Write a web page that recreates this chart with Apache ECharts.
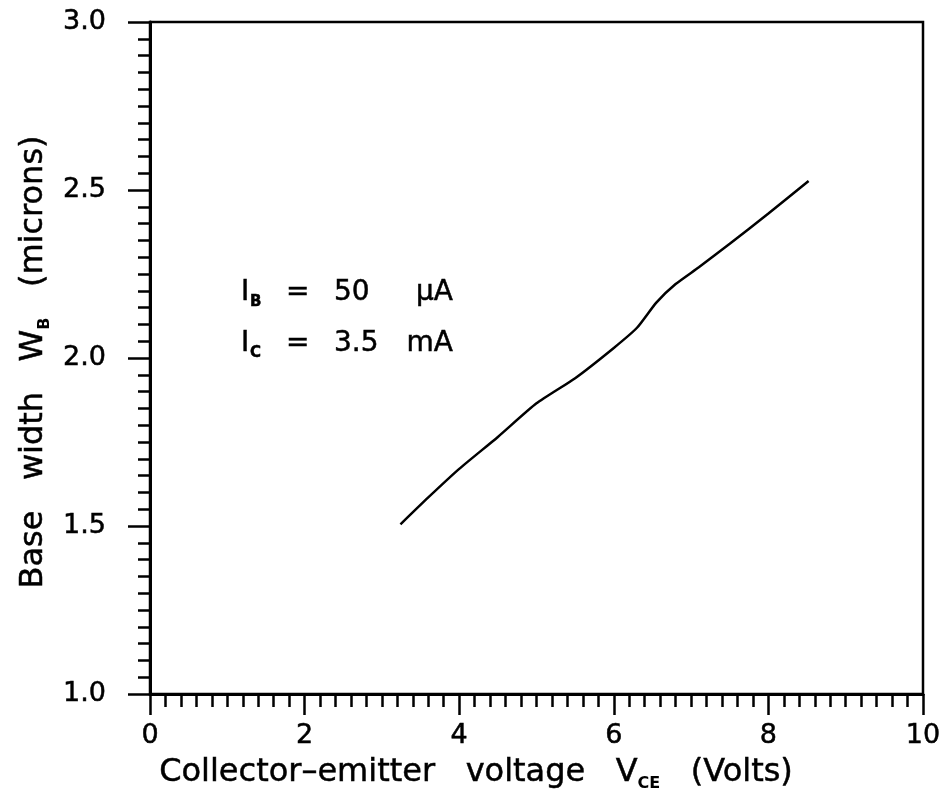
<!doctype html>
<html lang="en">
  <head>
    <meta charset="UTF-8" />
    <title>Base width vs VCE</title>
    <script src="https://cdn.jsdelivr.net/npm/echarts@6/dist/echarts.min.js"></script>
    <style>
      body { margin: 0; padding: 0; background: #fff; }
      .main { width: 945px; height: 799px; }
    </style>
  </head>
  <body>
    <div class="main"></div>
    <script>
      // values
      const vce = [3.24, 3.6, 4.0, 4.5, 5.0, 5.5, 6.0, 6.3, 6.55, 6.8, 7.1, 7.5, 8.0, 8.52];
      const wb = [1.505, 1.585, 1.67, 1.765, 1.865, 1.94, 2.03, 2.09, 2.165, 2.22, 2.27, 2.34, 2.43, 2.527];
      const xTicks = [0, 2, 4, 6, 8, 10];
      const yTicks = [1.0, 1.5, 2.0, 2.5, 3.0];
      // annotation lines: [subscript, value, unit]
      const notes = [
        ["B", "50", "\u03bcA"],
        ["C", "3.5", "mA"]
      ];

      const font = "DejaVu Sans";
      const ink = { fill: "#000", stroke: "#000", lineWidth: 0.5 };
      const chart = echarts.init(document.querySelector(".main"));

      const sub = { fontFamily: font, fontSize: 16, fontWeight: "bold", lineHeight: 24, verticalAlign: "bottom", fill: "#000" };

      // small helper for a plain text graphic
      function txt(x, y, s, size, extra) {
        return Object.assign({
          type: "text", x: x, y: y,
          style: Object.assign({ text: s, fontFamily: font, fontSize: size, verticalAlign: "middle" }, ink)
        }, extra || {});
      }

      const graphics = [];
      notes.forEach((n, i) => {
        const y = i === 0 ? 293 : 344;
        graphics.push(txt(241, y, "I", 28));
        graphics.push(txt(250, y + 9, n[0], 15, { style: Object.assign({ text: n[0], fontFamily: font, fontSize: 15, fontWeight: "bold", verticalAlign: "middle" }, ink) }));
        graphics.push(txt(286, y, "=", 28));
        graphics.push(txt(334, y, n[1], 28));
        graphics.push(txt(453, y, n[2], 28, { style: Object.assign({ text: n[2], fontFamily: font, fontSize: 28, verticalAlign: "middle", align: "right" }, ink) }));
      });

      graphics.push({
        type: "text",
        x: 476, y: 773,
        style: {
          text: "{n|Collector\u2013emitter   voltage   V}{s|CE}{n|   (Volts)}",
          align: "center", verticalAlign: "middle",
          rich: {
            n: Object.assign({ fontFamily: font, fontSize: 32, lineHeight: 38 }, ink),
            s: sub
          }
        }
      });
      graphics.push({
        type: "text",
        x: 34, y: 362, rotation: Math.PI / 2,
        style: {
          text: "{n|Base   width   W}{s|B}{n|   (microns)}",
          align: "center", verticalAlign: "middle",
          rich: {
            n: Object.assign({ fontFamily: font, fontSize: 32, lineHeight: 38 }, ink),
            s: sub
          }
        }
      });

      const option = {
        animation: false,
        grid: {
          left: 150, right: 22, top: 22, bottom: 105,
          show: true, borderColor: "#000", borderWidth: 2.5
        },
        xAxis: {
          type: "value",
          min: xTicks[0],
          max: xTicks[xTicks.length - 1],
          interval: 2,
          axisLine: { lineStyle: { color: "#000", width: 3 } },
          axisTick: { show: true, length: 21, lineStyle: { color: "#000", width: 2.5 } },
          minorTick: { show: true, splitNumber: 10, length: 13, lineStyle: { color: "#000", width: 2.5 } },
          splitLine: { show: false },
          axisLabel: {
            color: "#000", fontFamily: font, fontSize: 27, margin: 28,
            textBorderColor: "#000", textBorderWidth: 0.5
          }
        },
        yAxis: {
          type: "value",
          min: yTicks[0],
          max: yTicks[yTicks.length - 1],
          interval: 0.5,
          axisLine: { lineStyle: { color: "#000", width: 3 } },
          axisTick: { show: true, length: 22, lineStyle: { color: "#000", width: 2.5 } },
          minorTick: { show: true, splitNumber: 10, length: 12, lineStyle: { color: "#000", width: 2.5 } },
          splitLine: { show: false },
          axisLabel: {
            color: "#000", fontFamily: font, fontSize: 27, margin: 44,
            textBorderColor: "#000", textBorderWidth: 0.5,
            formatter: (v) => v.toFixed(1)
          }
        },
        series: [
          {
            type: "line",
            data: vce.map((v, i) => [v, wb[i]]),
            showSymbol: false,
            smooth: 0.2,
            lineStyle: { color: "#000", width: 2.5 }
          }
        ],
        graphic: graphics
      };

      chart.setOption(option);
    </script>
  </body>
</html>
